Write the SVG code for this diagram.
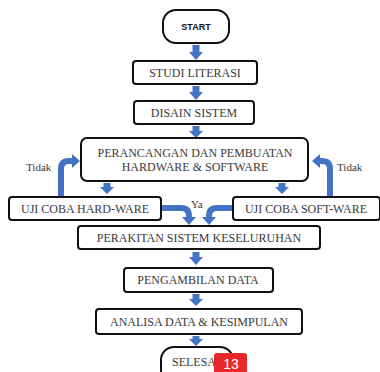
<svg xmlns="http://www.w3.org/2000/svg" width="380" height="372" viewBox="0 0 380 372">
<style>
.box{fill:#fff;stroke:#111;stroke-width:2}
.t{font-family:"Liberation Serif","DejaVu Serif",serif;font-size:12px;fill:#3a3a3a;text-anchor:middle;dominant-baseline:central}
.lbl{font-family:"Liberation Serif","DejaVu Serif",serif;font-size:11px;fill:#3a3a3a;dominant-baseline:central}
.arr{fill:#4472C4}
.bend{fill:none;stroke:#4472C4;stroke-width:6}
</style>
<rect width="380" height="372" fill="#fff"/>
<g id="connectors">
<path class="arr" d="M192.5 45H199.5V52H203L196 60L189 52H192.5Z"/>
<path class="arr" d="M192.5 86H199.5V92H203L196 100L189 92H192.5Z"/>
<path class="arr" d="M192.5 126H199.5V131H203L196 138L189 131H192.5Z"/>
<path class="arr" d="M103.5 183H110.5V187H114L107 194L100 187H103.5Z"/>
<path class="arr" d="M278.5 183H285.5V187H289L282 194L275 187H278.5Z"/>
<path class="bend" d="M61 197V169Q61 161 69 161H73"/>
<path class="arr" d="M72 154L80 161L72 168Z"/>
<path class="bend" d="M330 197V169Q330 161 322 161H319"/>
<path class="arr" d="M320 154L312 161L320 168Z"/>
<path class="bend" d="M162 208H181Q189 208 189 216V218"/>
<path class="arr" d="M182 217H196L189 225Z"/>
<path class="bend" d="M233 208H217Q209 208 209 216V218"/>
<path class="arr" d="M202 217H216L209 225Z"/>
<path class="arr" d="M192.5 252H199.5V257H203L196 265L189 257H192.5Z"/>
<path class="arr" d="M192.5 294H199.5V299H203L196 306L189 299H192.5Z"/>
<path class="arr" d="M192.5 336H199.5V339H203L196 346L189 339H192.5Z"/>
<text class="lbl" x="26" y="167">Tidak</text>
<text class="lbl" x="337" y="167">Tidak</text>
<text class="lbl" x="191" y="204">Ya</text>
</g>
<g id="start"><rect class="box" x="163" y="10" width="66" height="33" rx="13"/><text x="196" y="27" style="font-family:'Liberation Sans',sans-serif;font-size:9px;font-weight:bold;fill:#111;text-anchor:middle;dominant-baseline:central">START</text></g>
<g id="studi"><rect class="box" x="133" y="61" width="124" height="23" rx="3"/><text class="t" x="195" y="73">STUDI LITERASI</text></g>
<g id="disain"><rect class="box" x="134" y="101" width="120" height="23" rx="3"/><text class="t" x="194" y="113">DISAIN SISTEM</text></g>
<g id="perancangan"><rect class="box" x="81" y="138" width="227" height="43" rx="6"/><text class="t" x="195" y="153">PERANCANGAN DAN PEMBUATAN</text><text class="t" x="195" y="167">HARDWARE &amp; SOFTWARE</text></g>
<g id="uji-hw"><rect class="box" x="9" y="197" width="152" height="23" rx="3"/><text class="t" x="85" y="209">UJI COBA HARD-WARE</text></g>
<g id="uji-sw"><rect class="box" x="233" y="197" width="147" height="23" rx="3"/><text class="t" x="306" y="209">UJI COBA SOFT-WARE</text></g>
<g id="perakitan"><rect class="box" x="78" y="226" width="242" height="23" rx="3"/><text class="t" x="199" y="238">PERAKITAN SISTEM KESELURUHAN</text></g>
<g id="pengambilan"><rect class="box" x="124" y="268" width="149" height="24" rx="3"/><text class="t" x="198" y="280">PENGAMBILAN DATA</text></g>
<g id="analisa"><rect class="box" x="96" y="309" width="206" height="25" rx="3"/><text class="t" x="199" y="322">ANALISA DATA &amp; KESIMPULAN</text></g>
<g id="selesai"><rect class="box" x="161" y="347" width="72" height="36" rx="13"/><text class="t" x="196" y="362">SELESAI</text></g>
<g id="badge"><rect x="214" y="353" width="33" height="24" rx="3" fill="#e8282b"/><text x="231" y="369" style="font-family:'Liberation Sans',sans-serif;font-size:14px;fill:#fff;text-anchor:middle">13</text></g>
</svg>
